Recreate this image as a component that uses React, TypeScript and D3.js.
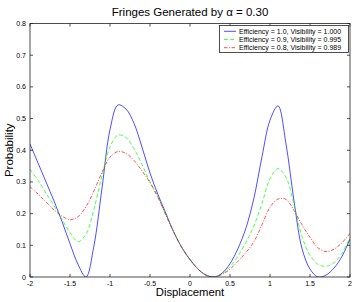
import React, { useRef, useEffect } from 'react';
import * as d3 from 'd3';

// displacement samples
const displacement = [
  -2.0, -1.9, -1.8, -1.7, -1.6, -1.5, -1.4, -1.3, -1.2, -1.1,
  -1.0, -0.9, -0.8, -0.7, -0.6, -0.5, -0.4, -0.3, -0.2, -0.1,
  0.0, 0.1, 0.2, 0.3, 0.4, 0.5, 0.6, 0.7, 0.8, 0.9,
  1.0, 1.1, 1.2, 1.3, 1.4, 1.5, 1.6, 1.7, 1.8, 1.9, 2.0,
];

const eff10 = [
  0.42, 0.36, 0.30, 0.24, 0.175, 0.105, 0.04, 0.0, 0.10, 0.28,
  0.465, 0.543, 0.53, 0.485, 0.41, 0.328, 0.26, 0.2, 0.14, 0.092,
  0.055, 0.025, 0.006, 0.0, 0.012, 0.042, 0.09, 0.155, 0.25, 0.38,
  0.495, 0.54, 0.42, 0.24, 0.09, 0.025, 0.0, 0.006, 0.028, 0.065, 0.12,
];

const eff09 = [
  0.34, 0.305, 0.265, 0.225, 0.182, 0.14, 0.112, 0.135, 0.215, 0.32,
  0.41, 0.448, 0.44, 0.405, 0.355, 0.30, 0.25, 0.196, 0.14, 0.092,
  0.055, 0.025, 0.006, 0.0, 0.01, 0.032, 0.066, 0.11, 0.162, 0.232,
  0.31, 0.342, 0.315, 0.228, 0.128, 0.068, 0.04, 0.034, 0.045, 0.075, 0.125,
];

const eff08 = [
  0.285, 0.262, 0.237, 0.212, 0.192, 0.181, 0.19, 0.222, 0.272, 0.33,
  0.378, 0.396, 0.39, 0.368, 0.335, 0.298, 0.252, 0.194, 0.14, 0.092,
  0.055, 0.025, 0.006, 0.0, 0.008, 0.025, 0.05, 0.078, 0.112, 0.165,
  0.22, 0.246, 0.245, 0.21, 0.165, 0.125, 0.092, 0.08, 0.088, 0.108, 0.138,
];

const legendLabels = [
  'Efficiency = 1.0, Visibility = 1.000',
  'Efficiency = 0.9, Visibility = 0.995',
  'Efficiency = 0.8, Visibility = 0.989',
];

const xTicks = [-2, -1.5, -1, -0.5, 0, 0.5, 1, 1.5, 2];
const xTickLabels = ['-2', '-1.5', '-1', '-0.5', '0', '0.5', '1', '1.5', '2'];
const yTicks = [0, 0.1, 0.2, 0.3, 0.4, 0.5, 0.6, 0.7, 0.8];
const yTickLabels = ['0', '0.1', '0.2', '0.3', '0.4', '0.5', '0.6', '0.7', '0.8'];

const W = 357;
const H = 302;
const FONT = 'Liberation Sans, Arial, Helvetica, sans-serif';

const App = () => {
  const svgRef = useRef<SVGSVGElement | null>(null);

  useEffect(() => {
    const svg = d3.select(svgRef.current);
    svg.selectAll('*').remove();

    const left = 30, right = 350, top = 23.5, bottom = 277;
    const x = d3.scaleLinear().domain([-2, 2]).range([left, right]);
    const y = d3.scaleLinear().domain([0, 0.8]).range([bottom, top]);

    const series = [
      { values: eff10, color: '#0000ff', dash: null },
      { values: eff09, color: '#00ff00', dash: '4,2.2' },
      { values: eff08, color: '#ff0000', dash: '3.5,1.5,1,1.5' },
    ];

    svg.append('rect').attr('width', W).attr('height', H).attr('fill', '#fff');

    svg.append('clipPath').attr('id', 'plotclip')
      .append('rect')
      .attr('x', left).attr('y', top)
      .attr('width', right - left).attr('height', bottom - top);

    const line = d3.line<number>()
      .x((d, i) => x(displacement[i]))
      .y(d => y(d))
      .curve(d3.curveCatmullRom.alpha(0.5));

    const plot = svg.append('g').attr('clip-path', 'url(#plotclip)');
    series.forEach(s => {
      plot.append('path')
        .datum(s.values)
        .attr('d', line)
        .attr('fill', 'none')
        .attr('stroke', s.color)
        .attr('stroke-width', 0.7)
        .attr('stroke-dasharray', s.dash);
    });

    // box and ticks
    const axisColor = '#222';
    svg.append('rect')
      .attr('x', left).attr('y', top)
      .attr('width', right - left).attr('height', bottom - top)
      .attr('fill', 'none').attr('stroke', axisColor).attr('stroke-width', 0.8);

    const tl = 3;
    xTicks.forEach((t, i) => {
      svg.append('line').attr('x1', x(t)).attr('x2', x(t)).attr('y1', bottom).attr('y2', bottom - tl)
        .attr('stroke', axisColor).attr('stroke-width', 0.8);
      svg.append('line').attr('x1', x(t)).attr('x2', x(t)).attr('y1', top).attr('y2', top + tl)
        .attr('stroke', axisColor).attr('stroke-width', 0.8);
      svg.append('text').attr('x', x(t)).attr('y', 286)
        .attr('text-anchor', 'middle').attr('font-size', 7).attr('font-family', FONT)
        .text(xTickLabels[i]);
    });
    yTicks.forEach((t, i) => {
      svg.append('line').attr('x1', left).attr('x2', left + tl).attr('y1', y(t)).attr('y2', y(t))
        .attr('stroke', axisColor).attr('stroke-width', 0.8);
      svg.append('line').attr('x1', right).attr('x2', right - tl).attr('y1', y(t)).attr('y2', y(t))
        .attr('stroke', axisColor).attr('stroke-width', 0.8);
      svg.append('text').attr('x', 26).attr('y', y(t) + 2.5)
        .attr('text-anchor', 'end').attr('font-size', 7).attr('font-family', FONT)
        .text(yTickLabels[i]);
    });

    // titles
    svg.append('text').attr('x', (left + right) / 2).attr('y', 16)
      .attr('text-anchor', 'middle').attr('font-size', 11.5).attr('font-family', FONT)
      .text('Fringes Generated by α = 0.30');
    svg.append('text').attr('x', (left + right) / 2).attr('y', 295.5)
      .attr('text-anchor', 'middle').attr('font-size', 11.3).attr('font-family', FONT)
      .text('Displacement');
    svg.append('text')
      .attr('transform', `translate(13, ${(top + bottom) / 2}) rotate(-90)`)
      .attr('text-anchor', 'middle').attr('font-size', 11.5).attr('font-family', FONT)
      .text('Probability');

    // legend
    const lg = svg.append('g');
    lg.append('rect')
      .attr('x', 219.5).attr('y', 25.5).attr('width', 129).attr('height', 27)
      .attr('fill', '#fff').attr('stroke', axisColor).attr('stroke-width', 0.8);
    legendLabels.forEach((label, i) => {
      const cy = 31.3 + i * 8.2;
      lg.append('line').attr('x1', 224).attr('x2', 236).attr('y1', cy).attr('y2', cy)
        .attr('stroke', series[i].color).attr('stroke-width', 0.7)
        .attr('stroke-dasharray', series[i].dash);
      lg.append('text').attr('x', 239).attr('y', cy + 2.5)
        .attr('font-size', 7).attr('font-family', FONT)
        .text(label);
    });
  }, []);

  return (
    <svg
      ref={svgRef}
      width={W}
      height={H}
      style={{ position: 'absolute', left: 0, top: 0 }}
    />
  );
};

export default App;
